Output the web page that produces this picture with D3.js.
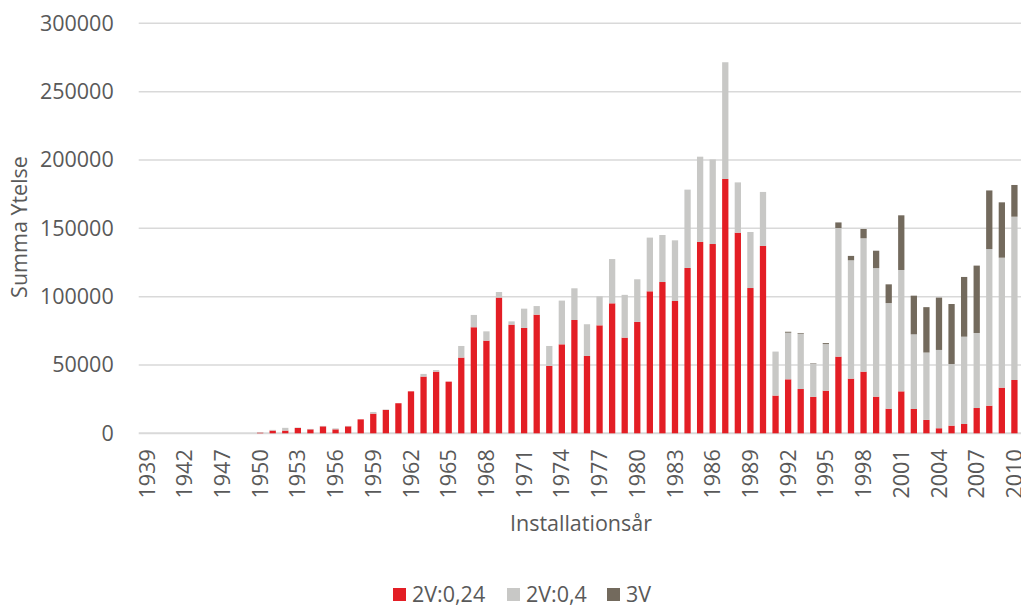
<!DOCTYPE html>
<html>
<head>
<meta charset="utf-8">
<script src="https://cdn.jsdelivr.net/npm/d3@7"></script>
<style>
  html, body { margin: 0; padding: 0; background: #fff; }
  svg text { font-family: "Open Sans", "Liberation Sans", sans-serif; fill: #595959; }
</style>
</head>
<body>
<div id="chart"></div>
<script>
const years = ["1939","1940","1941","1942","1944","1945","1947","1948","1949",
  "1950","1951","1952","1953","1954","1955","1956","1957","1958","1959",
  "1960","1961","1962","1963","1964","1965","1966","1967","1968","1969",
  "1970","1971","1972","1973","1974","1975","1976","1977","1978","1979",
  "1980","1981","1982","1983","1984","1985","1986","1987","1988","1989",
  "1990","1991","1992","1993","1994","1995","1996","1997","1998","1999",
  "2000","2001","2002","2003","2004","2005","2006","2007","2008","2009","2010"];

const v024 = [0,0,0,0,0,0,0,0,0,
  500,2000,2000,3900,2900,5100,2900,5100,10200,14400,
  17100,22000,30700,41500,45100,37800,55400,77600,67800,99300,
  79500,77100,86800,49300,65100,82900,56600,79000,95100,70000,
  81500,103900,110700,96800,121000,140000,138500,186100,146800,106300,
  137100,27600,39500,32400,26700,31200,56100,40000,45100,26800,
  18000,30700,17800,9800,3700,5600,6800,18500,20200,33400,39000];

const v04 = [0,0,0,0,0,0,0,0,0,
  300,500,2000,300,300,300,700,300,0,1200,
  300,0,0,1950,1200,0,8500,9000,6800,4100,
  2400,14100,6300,14600,32000,23200,23200,21200,32400,31300,
  31200,39300,34400,44400,57300,62400,61900,85400,36800,41000,
  39500,32200,34100,40500,24400,34100,94100,86600,97600,94100,
  77300,88800,54600,49300,57300,45100,63900,54900,114600,95100,119500];

const v3 = [0,0,0,0,0,0,0,0,0,
  0,0,0,0,0,0,0,0,0,0,
  0,0,0,0,0,0,0,0,0,0,
  0,0,0,0,0,0,0,0,0,0,
  0,0,0,0,0,0,0,0,0,0,
  0,0,700,500,300,700,4100,3200,6800,12700,
  13700,40000,28300,33200,38300,43900,43700,49300,42900,40500,23200];

const seriesNames = ["2V:0,24", "2V:0,4", "3V"];
const yTicks = [0, 50000, 100000, 150000, 200000, 250000, 300000];

const width = 1021, height = 605;
const margin = { left: 140.7, right: 0.3, top: 23.3, bottom: 171.7 };
const fs = 21.5;

const rows = years.map((y, i) => ({ year: y, "2V:0,24": v024[i], "2V:0,4": v04[i], "3V": v3[i] }));

const color = d3.scaleOrdinal()
  .domain(seriesNames)
  .range(["#E31E25", "#C8C8C6", "#736A5D"]);

const x = d3.scaleBand()
  .domain(years)
  .range([margin.left, width - margin.right])
  .paddingInner(0.5)
  .paddingOuter(0.25);

const y = d3.scaleLinear()
  .domain([0, 300000])
  .range([height - margin.bottom, margin.top]);

const svg = d3.select("#chart")
  .append("svg")
  .attr("width", width)
  .attr("height", height);

// gridlines
svg.append("g")
  .selectAll("line")
  .data(yTicks)
  .join("line")
  .attr("x1", margin.left - 2)
  .attr("x2", width)
  .attr("y1", d => y(d))
  .attr("y2", d => y(d))
  .attr("stroke", "#D9D9D9")
  .attr("stroke-width", d => d === 0 ? 2 : 1.5);

// y axis labels
const yAxis = svg.append("g")
  .attr("transform", `translate(${margin.left - 24},0)`)
  .call(d3.axisLeft(y).tickValues(yTicks).tickSize(0).tickFormat(d3.format("d")));
yAxis.select(".domain").remove();
yAxis.selectAll("text")
  .attr("font-size", fs)
  .attr("fill", "#595959")
  .style("font-family", null);

// stacked bars
const stacked = d3.stack().keys(seriesNames)(rows);

svg.append("g")
  .selectAll("g")
  .data(stacked)
  .join("g")
  .attr("fill", d => color(d.key))
  .selectAll("rect")
  .data(d => d)
  .join("rect")
  .attr("x", d => x(d.data.year))
  .attr("width", x.bandwidth())
  .attr("y", d => y(d[1]))
  .attr("height", d => y(d[0]) - y(d[1]));

// x axis labels (every third category)
const xAxis = svg.append("g")
  .attr("transform", `translate(0,${y(0)})`)
  .call(d3.axisBottom(x).tickValues(years.filter((d, i) => i % 3 === 0)).tickSize(0));
xAxis.select(".domain").remove();
xAxis.selectAll("text")
  .attr("font-size", fs)
  .attr("fill", "#595959")
  .attr("transform", "rotate(-90)")
  .attr("text-anchor", "end")
  .attr("x", -16)
  .attr("y", 0)
  .attr("dy", "0.35em");

// axis titles
svg.append("text")
  .attr("transform", `translate(27,${227}) rotate(-90)`)
  .attr("text-anchor", "middle")
  .attr("font-size", fs)
  .text("Summa Ytelse");

svg.append("text")
  .attr("x", 581)
  .attr("y", 531)
  .attr("text-anchor", "middle")
  .attr("font-size", fs)
  .text("Installationsår");

// legend
const legendX = [393, 507, 607];
const legend = svg.append("g")
  .selectAll("g")
  .data(seriesNames)
  .join("g")
  .attr("transform", (d, i) => `translate(${legendX[i]},588)`);
legend.append("rect")
  .attr("width", 13)
  .attr("height", 13)
  .attr("fill", d => color(d));
legend.append("text")
  .attr("x", 19)
  .attr("y", 14)
  .attr("font-size", fs)
  .text(d => d);
</script>
</body>
</html>
